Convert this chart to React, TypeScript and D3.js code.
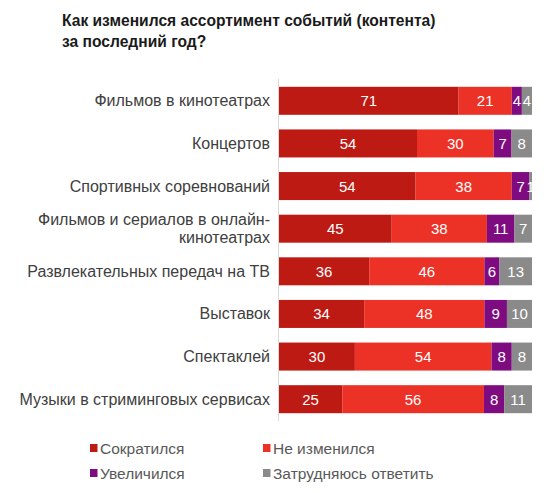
import React from 'react';
import * as d3 from 'd3';

const categories = [
  ['Фильмов в кинотеатрах'],
  ['Концертов'],
  ['Спортивных соревнований'],
  ['Фильмов и сериалов в онлайн-', 'кинотеатрах'],
  ['Развлекательных передач на ТВ'],
  ['Выставок'],
  ['Спектаклей'],
  ['Музыки в стриминговых сервисах'],
];

const decreased = [71, 54, 54, 45, 36, 34, 30, 25];
const unchanged = [21, 30, 38, 38, 46, 48, 54, 56];
const increased = [4, 7, 7, 11, 6, 9, 8, 8];
const hardToSay = [4, 8, 1, 7, 13, 10, 8, 11];

const seriesNames = ['Сократился', 'Не изменился', 'Увеличился', 'Затрудняюсь ответить'];
const seriesColors = ['#BE1A14', '#EC3126', '#7E0C80', '#8A8A8A'];

const font = '"Liberation Sans", Arial, sans-serif';

export default function App() {
  const width = 554;
  const height = 493;
  const series = [decreased, unchanged, increased, hardToSay];

  const rows = categories.map((lines, i) => {
    const vals = series.map(s => s[i]);
    const total = d3.sum(vals);
    const cum = d3.cumsum(vals);
    return { key: lines.join(' '), lines, vals, total, cum };
  });

  const x = d3.scaleLinear().domain([0, 1]).range([279, 532]);
  const y = d3.scalePoint<string>()
    .domain(rows.map(r => r.key))
    .range([79.5, 420.5])
    .padding(0.5);
  const barH = 28;

  const legendPos = [
    [90, 444], [263, 444], [90, 469], [263, 469],
  ];

  return (
    <div style={{ position: 'absolute', left: 0, top: 0 }}>
      <svg width={width} height={height} style={{ display: 'block', background: '#fff' }}>
        <text x={62} y={26} fontFamily={font} fontWeight="bold" fontSize={15.6} fill="#1a1a1a">
          Как изменился ассортимент событий (контента)
        </text>
        <text x={62} y={47} fontFamily={font} fontWeight="bold" fontSize={15.6} fill="#1a1a1a">
          за последний год?
        </text>

        {rows.map(r => {
          const cy = y(r.key)!;
          return (
            <g key={r.key}>
              {r.vals.map((v, j) => {
                const x0 = x((r.cum[j] - v) / r.total);
                const x1 = x(r.cum[j] / r.total);
                return (
                  <g key={j}>
                    <rect x={x0} y={cy - barH / 2} width={x1 - x0} height={barH} fill={seriesColors[j]} />
                    <text
                      x={(x0 + x1) / 2}
                      y={cy + 5.5}
                      textAnchor="middle"
                      fontFamily={font}
                      fontSize={15}
                      fill="#fff"
                    >
                      {v}
                    </text>
                  </g>
                );
              })}
              {r.lines.map((line, k) => (
                <text
                  key={k}
                  x={270}
                  y={cy + 5.5 + (k - (r.lines.length - 1) / 2) * 18}
                  textAnchor="end"
                  fontFamily={font}
                  fontSize={16}
                  fill="#404040"
                >
                  {line}
                </text>
              ))}
            </g>
          );
        })}

        <line x1={278.5} x2={278.5} y1={79} y2={421} stroke="#d9d9d9" strokeWidth={1} />

        {seriesNames.map((name, j) => (
          <g key={name}>
            <rect x={legendPos[j][0]} y={legendPos[j][1]} width={7.5} height={8} fill={seriesColors[j]} />
            <text
              x={legendPos[j][0] + 10}
              y={legendPos[j][1] + 9.5}
              fontFamily={font}
              fontSize={15.5}
              fill="#595959"
            >
              {name}
            </text>
          </g>
        ))}
      </svg>
    </div>
  );
}
